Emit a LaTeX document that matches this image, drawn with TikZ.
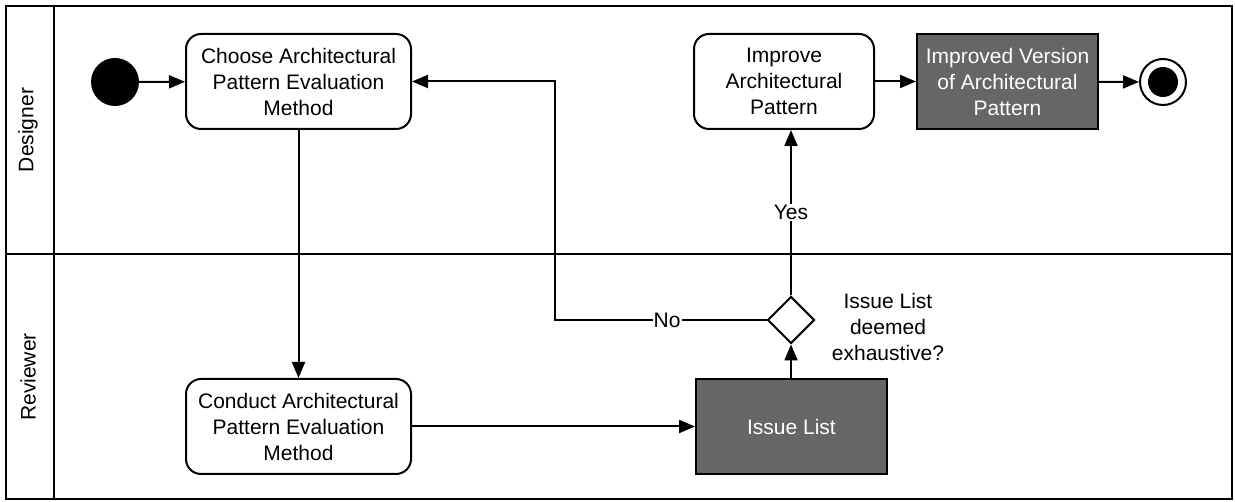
\documentclass[tikz,border=0pt]{standalone}
\usepackage{fontspec}
\setmainfont{Liberation Sans}
\usetikzlibrary{shapes.geometric,arrows.meta}

\definecolor{boxgray}{HTML}{666666}

\begin{document}
\begin{tikzpicture}[x=1pt, y=-1pt,
  txt/.style={font=\fontsize{21}{26}\selectfont},
  lane/.style={line width=2.2pt},
  action/.style={txt, draw, line width=2pt, rounded corners=15pt, align=center,
    inner sep=0pt, minimum height=95pt},
  artifact/.style={txt, draw, line width=2pt, fill=boxgray, text=white, align=center,
    inner sep=0pt, minimum height=95pt},
  flow/.style={line width=2pt, -{Triangle[length=16pt, width=13pt]}},
  guard/.style={txt, fill=white, inner sep=1pt}]
  \useasboundingbox (0,0) rectangle (1235,502);

  % swimlanes
  \draw[lane] (6,6) rectangle (1232,499);
  \draw[lane] (54,6) -- (54,499);
  \draw[lane] (6,254) -- (1232,254);
  \node[txt, rotate=90] (designer) at (28,130) {Designer};
  \node[txt, rotate=90] (reviewer) at (28,377) {Reviewer};

  % designer lane
  \node[circle, fill=black, minimum size=48pt, inner sep=0pt] (start) at (115,82) {};
  \node[action, minimum width=225pt] (choose) at (298.5,81.5) {Choose Architectural\\Pattern Evaluation\\Method};
  \node[action, minimum width=180pt] (improve) at (784,81.5) {Improve\\Architectural\\Pattern};
  \node[artifact, minimum width=181pt] (improved) at (1007.5,81.5) {Improved Version\\of Architectural\\Pattern};
  \node[circle, draw, line width=2pt, minimum size=46pt, inner sep=0pt] (stop) at (1163,82) {};
  \node[circle, fill=black, minimum size=30pt, inner sep=0pt] (stopdot) at (stop) {};

  % reviewer lane
  \node[action, minimum width=225pt] (conduct) at (298.5,426.5) {Conduct Architectural\\Pattern Evaluation\\Method};
  \node[artifact, minimum width=191pt] (issues) at (791.5,426.5) {Issue List};
  \node[diamond, draw, line width=2pt, minimum size=47pt, inner sep=0pt] (check) at (791,320) {};
  \node[txt, align=center] (question) at (888,327) {Issue List\\deemed\\exhaustive?};
  \coordinate (back) at (555,320);

  % flows
  \draw[flow] (start) -- (choose);
  \draw[flow] (choose) -- (conduct);
  \draw[flow] (conduct) -- (issues);
  \draw[flow] (issues.north -| check) -- (check);
  \draw[flow] (check) -- node[guard] (yes) {Yes} (check |- improve.south);
  \draw[flow] (check) -- node[guard, pos=0.47] (no) {No} (back) |- (choose);
  \draw[flow] (improve) -- (improved);
  \draw[flow] (improved) -- (stop);
\end{tikzpicture}
\end{document}
